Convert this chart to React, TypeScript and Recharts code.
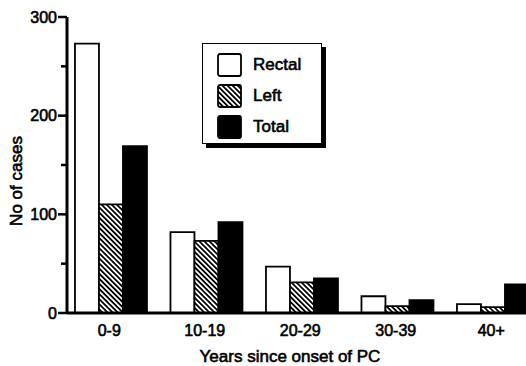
import { Bar, BarChart, Label, Legend, XAxis, YAxis } from 'recharts'

const periods = ['0-9', '10-19', '20-29', '30-39', '40+']
const rectal = [273, 82, 47, 17, 9]
const left = [110, 73, 31, 7, 6]
const total = [169, 92, 35, 13, 29]
const yTicks = [0, 50, 100, 150, 200, 250, 300]

const seriesNames = ['Rectal', 'Left', 'Total']

const data = periods.map((p, i) => ({
  period: p,
  Rectal: rectal[i],
  Left: left[i],
  Total: total[i],
}))

const FONT = '"Liberation Sans", Arial, sans-serif'
const AXIS_X = 67
// scanned print is heavy, thicken glyphs a bit without widening them
const ink = { fill: '#000', stroke: '#000', strokeWidth: 0.6 }

function YTick({ y, payload }: any) {
  const major = payload.value % 100 === 0
  return (
    <g>
      <line x1={AXIS_X - (major ? 9 : 6)} x2={AXIS_X} y1={y} y2={y} stroke="#000" strokeWidth={2.5} />
      {major && (
        <text x={AXIS_X - 10} y={y} dy="0.36em" textAnchor="end" fontSize={16} fontFamily={FONT} {...ink}>
          {payload.value}
        </text>
      )}
    </g>
  )
}

function XTick({ x, y, payload }: any) {
  return (
    <text x={x - 2} y={y} dy="0.71em" textAnchor="middle" fontSize={16} fontFamily={FONT} {...ink}>
      {payload.value}
    </text>
  )
}

function Swatch({ kind }: { kind: string }) {
  return (
    <svg width={25} height={24} style={{ display: 'block' }}>
      <defs>
        <pattern id="hatchLegend" width="3.6" height="3.6" patternUnits="userSpaceOnUse" patternTransform="rotate(45)">
          <rect width="3.6" height="3.6" fill="#fff" />
          <rect y="0" width="3.6" height="1.8" fill="#000" />
        </pattern>
      </defs>
      <rect
        x={1}
        y={1}
        width={23}
        height={22}
        rx={2}
        fill={kind === 'Rectal' ? '#fff' : kind === 'Left' ? 'url(#hatchLegend)' : '#000'}
        stroke="#000"
        strokeWidth={1.8}
      />
    </svg>
  )
}

function LegendBox() {
  return (
    <div
      style={{
        width: 120,
        height: 101,
        border: '1.5px solid #000',
        boxShadow: '4px 4px 0 #000',
        background: '#fff',
        boxSizing: 'border-box',
        paddingTop: 5,
        paddingLeft: 14,
      }}
    >
      {seriesNames.map((n) => (
        <div key={n} style={{ display: 'flex', alignItems: 'center', height: 31 }}>
          <Swatch kind={n} />
          <span
            style={{
              marginLeft: 11,
              fontSize: 17,
              fontFamily: FONT,
              color: '#000',
              WebkitTextStroke: '0.6px #000',
            }}
          >
            {n}
          </span>
        </div>
      ))}
    </div>
  )
}

export default function App() {
  return (
    <div style={{ width: 526, height: 366, overflow: 'hidden', position: 'relative', background: '#fff' }}>
      <style>{'body{margin:0;overflow:hidden;}'}</style>
      <BarChart
        width={541}
        height={366}
        data={data}
        margin={{ top: 17, right: 0, left: 7, bottom: 0 }}
        barGap={0}
        barCategoryGap="12%"
      >
        <defs>
          <pattern id="hatch" width="3.6" height="3.6" patternUnits="userSpaceOnUse" patternTransform="rotate(45)">
            <rect width="3.6" height="3.6" fill="#fff" />
            <rect y="0" width="3.6" height="1.8" fill="#000" />
          </pattern>
        </defs>
        <XAxis
          dataKey="period"
          height={53}
          padding={{ left: -3.5, right: 0 }}
          axisLine={{ stroke: '#000', strokeWidth: 3 }}
          tickLine={false}
          tickSize={6}
          tickMargin={6}
          interval={0}
          tick={<XTick />}
        >
          <Label
            content={() => (
              <text x={290} y={362} textAnchor="middle" fontSize={17} fontFamily={FONT} {...ink}>
                Years since onset of PC
              </text>
            )}
          />
        </XAxis>
        <YAxis
          width={60}
          domain={[0, 300]}
          ticks={yTicks}
          interval={0}
          axisLine={{ stroke: '#000', strokeWidth: 3 }}
          tickLine={false}
          tick={<YTick />}
        >
          <Label
            content={() => (
              <text
                x={16}
                y={181}
                transform="rotate(-90 16 181)"
                dy="0.35em"
                textAnchor="middle"
                fontSize={17}
                fontFamily={FONT}
                {...ink}
              >
                No of cases
              </text>
            )}
          />
        </YAxis>
        <Legend
          layout="vertical"
          verticalAlign="middle"
          align="center"
          content={() => <LegendBox />}
          wrapperStyle={{ position: 'absolute', left: 202, top: 43, width: 'auto', height: 'auto' }}
        />
        <Bar dataKey="Rectal" fill="#fff" stroke="#000" strokeWidth={1.8} isAnimationActive={false} />
        <Bar dataKey="Left" fill="url(#hatch)" stroke="#000" strokeWidth={1.8} isAnimationActive={false} />
        <Bar dataKey="Total" fill="#000" stroke="#000" strokeWidth={1.8} isAnimationActive={false} />
      </BarChart>
    </div>
  )
}
